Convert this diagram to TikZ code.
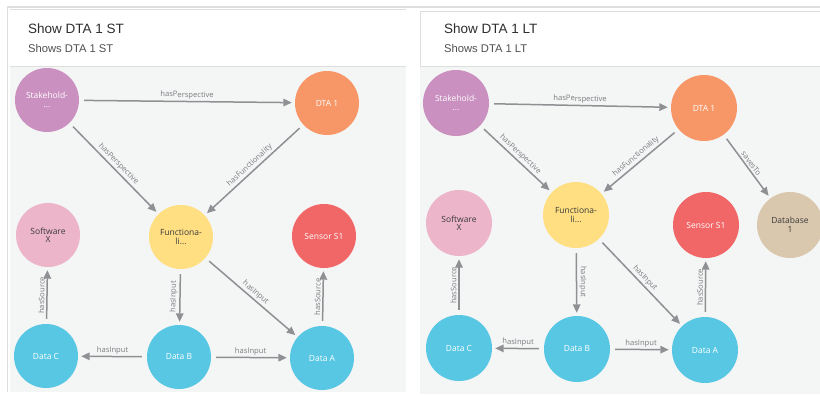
\documentclass[tikz,border=0pt]{standalone}
\usepackage{fontspec}
\setmainfont{Liberation Sans}
\newfontfamily\graphfont{Open Sans}
\usetikzlibrary{arrows.meta}
\definecolor{frameline}{HTML}{DEDEDE}
\definecolor{canvasbg}{HTML}{F4F5F5}
\definecolor{edgegray}{HTML}{8E9094}
\definecolor{labelgray}{HTML}{7A7C80}
\definecolor{titlecol}{HTML}{2E2E2E}
\definecolor{subcol}{HTML}{505050}
\definecolor{cpurple}{HTML}{C990C0}
\definecolor{corange}{HTML}{F79767}
\definecolor{cpink}{HTML}{ECB5C9}
\definecolor{cyellow}{HTML}{FFDF81}
\definecolor{cred}{HTML}{F16667}
\definecolor{cblue}{HTML}{57C7E3}
\definecolor{ctan}{HTML}{D9C8AE}
\definecolor{darktext}{HTML}{3A3A3A}
\tikzset{
  gnode/.style={circle, inner sep=0pt, minimum size=64pt, align=center,
    font=\graphfont\fontsize{8.5}{8.5}\selectfont, text=white},
  bignode/.style={gnode, minimum size=66pt},
  darklabel/.style={text=darktext},
  rel/.style={draw=edgegray, line width=1.5pt, shorten <=5pt, shorten >=3pt,
    -{Triangle[length=8.5pt,width=7.5pt]}},
  rellabel/.style={midway, sloped, above, inner sep=1.8pt, text=labelgray,
    font=\graphfont\fontsize{7.6}{8}\selectfont},
  paneltitle/.style={anchor=west, inner sep=0pt, text=titlecol, font=\fontsize{13.5}{15}\selectfont},
  panelsub/.style={anchor=west, inner sep=0pt, text=subcol, font=\fontsize{11.2}{13}\selectfont},
}
\begin{document}
\begin{tikzpicture}[x=1pt, y=-1pt]
\useasboundingbox (0,0) rectangle (820,394);
\fill[white] (0,0) rectangle (820,394);
% top rule across both panels
\fill[frameline] (7,5.5) rectangle (820,8);

% ---------- left panel ----------
\draw[frameline, line width=1pt] (7.5,8) -- (7.5,392);
\fill[canvasbg] (10,66) rectangle (406,392);
\draw[frameline, line width=0.8pt] (10,9.5) -- (406,9.5);
\draw[frameline, line width=0.8pt] (10,66) -- (406,66);
\node[paneltitle] (t1) at (28,29) {Show DTA 1 ST};
\node[panelsub] (s1) at (28,48) {Shows DTA 1 ST};

\node[gnode, fill=cpurple] (ls) at (47,100) {Stakehold-\\...};
\node[gnode, fill=corange] (ld) at (327,103) {DTA 1};
\node[gnode, fill=cpink, darklabel] (lx) at (48,235) {Software\\X};
\node[gnode, fill=cyellow, darklabel] (lf) at (181,237) {Functiona-\\li...};
\node[gnode, fill=cred] (lr) at (324,236) {Sensor S1};
\node[gnode, fill=cblue] (lc) at (46,356) {Data C};
\node[gnode, fill=cblue] (lb) at (179,357) {Data B};
\node[gnode, fill=cblue] (la) at (322,358) {Data A};

\draw[rel] (ls) -- node[rellabel] {hasPerspective} (ld);
\draw[rel] (ls) -- node[rellabel] {hasPerspective} (lf);
\draw[rel] (ld) -- node[rellabel] {hasFunctionality} (lf);
\draw[rel] (lf) -- node[rellabel] {hasInput} (lb);
\draw[rel] (lf) -- node[rellabel] {hasInput} (la);
\draw[rel] (lc) -- node[rellabel] {hasSource} (lx);
\draw[rel] (la) -- node[rellabel] {hasSource} (lr);
\draw[rel] (lb) -- node[rellabel] {hasInput} (lc);
\draw[rel] (lb) -- node[rellabel] {hasInput} (la);

% ---------- right panel ----------
\fill[canvasbg] (420,66) rectangle (820,394);
\draw[frameline, line width=0.8pt] (820,11.5) -- (420.4,11.5) -- (420.4,66) -- (820,66);
\node[paneltitle] (t2) at (444,29) {Show DTA 1 LT};
\node[panelsub] (s2) at (444,48) {Shows DTA 1 LT};

\node[bignode, fill=cpurple] (rs) at (456,103) {Stakehold-\\...};
\node[bignode, fill=corange] (rd) at (704,108) {DTA 1};
\node[bignode, fill=cpink, darklabel] (rx) at (459,223) {Software\\X};
\node[bignode, fill=cyellow, darklabel] (rf) at (576,215) {Functiona-\\li...};
\node[bignode, fill=cred] (rr) at (706,225) {Sensor S1};
\node[bignode, fill=ctan, darklabel] (rdb) at (790,225) {Database\\1};
\node[bignode, fill=cblue] (rc) at (459,348) {Data C};
\node[bignode, fill=cblue] (rb) at (577,349) {Data B};
\node[bignode, fill=cblue] (ra) at (705,350) {Data A};

\draw[rel] (rs) -- node[rellabel] {hasPerspective} (rd);
\draw[rel] (rs) -- node[rellabel] {hasPerspective} (rf);
\draw[rel] (rd) -- node[rellabel] {hasFunctionality} (rf);
\draw[rel] (rd) -- node[rellabel] {savesTo} (rdb);
\draw[rel] (rf) -- node[rellabel] {hasInput} (rb);
\draw[rel] (rf) -- node[rellabel] {hasInput} (ra);
\draw[rel] (rc) -- node[rellabel] {hasSource} (rx);
\draw[rel] (ra) -- node[rellabel] {hasSource} (rr);
\draw[rel] (rb) -- node[rellabel] {hasInput} (rc);
\draw[rel] (rb) -- node[rellabel] {hasInput} (ra);
\end{tikzpicture}
\end{document}
